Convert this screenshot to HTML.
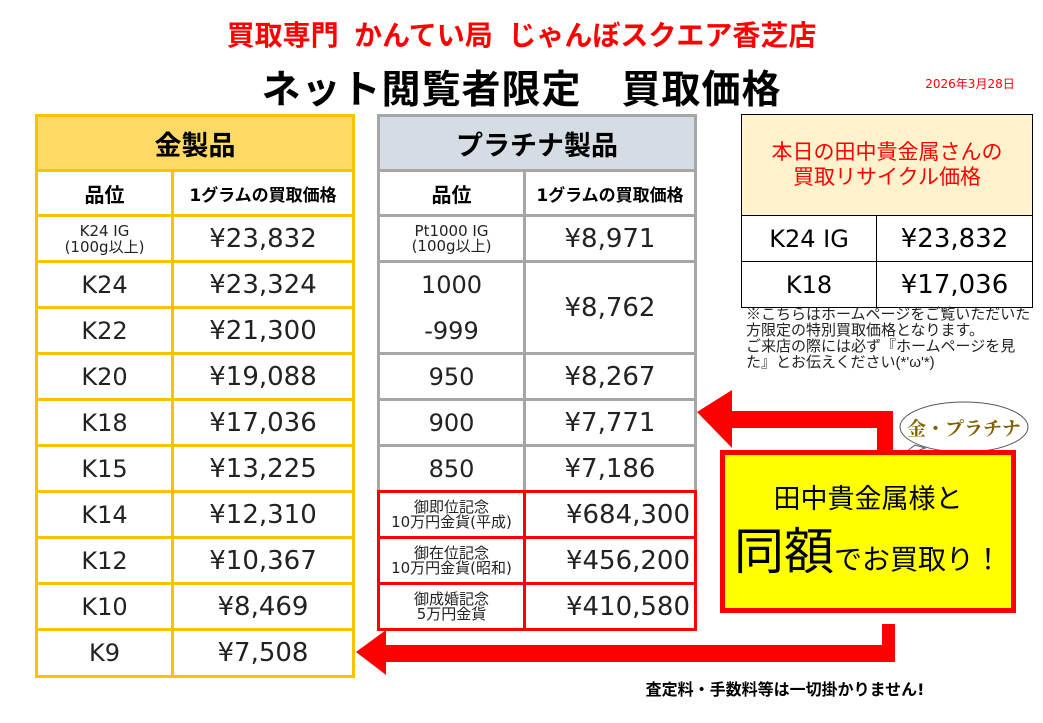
<!DOCTYPE html>
<html><head><meta charset="utf-8">
<style>
body{margin:0;width:1043px;height:723px;background:#fff;position:relative;overflow:hidden;font-family:"DejaVu Sans","Noto Sans CJK JP",sans-serif;color:#222}
.a{position:absolute;box-sizing:border-box;display:flex;align-items:center;justify-content:center;text-align:center}
.go{border:3px solid #FFC000}
.pt{border:3px solid #A6A6A6}
.rd{border:3px solid #f00}
.bk{border:1.5px solid #000}
</style></head><body>
<div class="a" style="left:0;top:14px;width:1043px;height:40px;color:#f00;font-weight:bold;font-size:28px;font-family:'Liberation Sans','Noto Sans CJK JP',sans-serif">買取専門&nbsp; かんてい局&nbsp; じゃんぼスクエア香芝店</div>
<div class="a" style="left:0;top:62px;width:1043px;height:50px;color:#000;font-weight:bold;font-size:39px;letter-spacing:1px;font-family:'Liberation Sans','Noto Sans CJK JP',sans-serif">ネット閲覧者限定　買取価格</div>
<div class="a" style="left:905px;top:74px;width:130px;height:18px;color:#f00;font-size:12px">2026年3月28日</div>

<div class="a go" style="left:35px;top:114px;width:320px;height:58px;background:#FFD966;font-size:27px;font-weight:bold;color:#000">金製品</div>
<div id="gold"></div>
<div class="a pt" style="left:377px;top:114px;width:320px;height:58px;background:#D6DCE4;font-size:27px;font-weight:bold;color:#000">プラチナ製品</div>

<div class="a bk" style="left:741px;top:114px;width:292px;height:102px;background:#FFF2CC;color:#f00;font-size:21px;line-height:25px">本日の田中貴金属さんの<br>買取リサイクル価格</div>
<div class="a bk" style="left:741px;top:215px;width:136px;height:47px;font-size:24px;color:#000">K24 IG</div>
<div class="a bk" style="left:876px;top:215px;width:157px;height:47px;font-size:26px;color:#000">¥23,832</div>
<div class="a bk" style="left:741px;top:261px;width:136px;height:47px;font-size:24px;color:#000">K18</div>
<div class="a bk" style="left:876px;top:261px;width:157px;height:47px;font-size:26px;color:#000">¥17,036</div>
<div style="position:absolute;left:746px;top:307px;width:285px;font-size:15px;line-height:16px;color:#222;font-family:'Liberation Sans','Noto Sans CJK JP',sans-serif">※こちらはホームページをご覧いただいた方限定の特別買取価格となります。<br>ご来店の際には必ず『ホームページを見た』とお伝えください(*'ω'*)</div>

<svg style="position:absolute;left:0;top:0" width="1043" height="723">
<polygon points="697,412 732,390 732,411 893,411 893,452 877,452 877,428 732,428 732,448" fill="#f00"/>
<polygon points="356,652 386,630 386,645 882,645 882,624 895,624 895,662 386,662 386,675" fill="#f00"/>
<ellipse cx="964" cy="427" rx="64" ry="25" fill="#fff" stroke="#555" stroke-width="1"/>
<polygon points="898,458 915,445 925,448" fill="#fff" stroke="#555"/>
<text x="964" y="435" text-anchor="middle" font-family="Noto Serif CJK SC,serif" font-weight="bold" font-size="19" fill="#806000">金・プラチナ</text>
</svg>
<div class="a" style="left:720px;top:450px;width:296px;height:163px;background:#FF0;border:5px solid #f00;flex-direction:column;color:#000">
<div style="font-size:27px;margin-top:4px">田中貴金属様と</div>
<div style="font-size:50px;line-height:60px;margin-top:6px">同額<span style="font-size:28px">でお買取り！</span></div>
</div>
<div class="a" style="left:600px;top:676px;width:370px;height:24px;font-size:16px;font-weight:bold;color:#000">査定料・手数料等は一切掛かりません!</div>

<script>
var ys=[170,215,261,307,353,399,445,491,537,583,629,676];
var g=[["品位","1グラムの買取価格"],["K24 IG<br>(100g以上)","¥23,832"],["K24","¥23,324"],["K22","¥21,300"],["K20","¥19,088"],["K18","¥17,036"],["K15","¥13,225"],["K14","¥12,310"],["K12","¥10,367"],["K10","¥8,469"],["K9","¥7,508"]];
var p=[["品位","1グラムの買取価格"],["Pt1000 IG<br>(100g以上)","¥8,971"],["1000",""],["-999",""],["950","¥8,267"],["900","¥7,771"],["850","¥7,186"],["御即位記念<br>10万円金貨(平成)","¥684,300"],["御在位記念<br>10万円金貨(昭和)","¥456,200"],["御成婚記念<br>5万円金貨","¥410,580"]];
var h="";
function cell(cls,x,y,w,hh,t,fs,extra){return '<div class="a '+cls+'" style="left:'+x+'px;top:'+y+'px;width:'+w+'px;height:'+hh+'px;font-size:'+fs+'px;'+(extra||'')+'">'+t+'</div>';}
for(var i=0;i<g.length;i++){var y=ys[i]-1,hh=ys[i+1]-ys[i]+3;
var f1=i==0?20:(i==1?15:24),f2=i==0?17:26,b=i==0?'font-weight:bold;color:#000;':'';
h+=cell('go',35,y,139,hh,g[i][0],f1,b+(i==1?'line-height:16px;':''));
h+=cell('go',171,y,184,hh,g[i][1],f2,b);}
for(var i=0;i<p.length;i++){var y=ys[i]-1,hh=ys[i+1]-ys[i]+3,red=i>=7,c=red?'rd':'pt';
var f1=i==0?20:(i==1||red?15:24),f2=i==0?17:26,b=i==0?'font-weight:bold;color:#000;':'';
if(i==2){h+=cell('pt',377,y,149,ys[4]-ys[2]+3,"1000<br>-999",24,'line-height:46px;');h+=cell('pt',523,y,174,ys[4]-ys[2]+3,"¥8,762",26,'');}
else if(i!=3){h+=cell(c,377,y,149,hh,p[i][0],f1,b+(i==1||red?'line-height:15px;overflow:hidden;':''));
h+=cell(c,523,y,174,hh,p[i][1],f2,b+(red?'justify-content:flex-end;padding-right:4px;':''));}}
document.getElementById('gold').outerHTML=h;
</script>
</body></html>
